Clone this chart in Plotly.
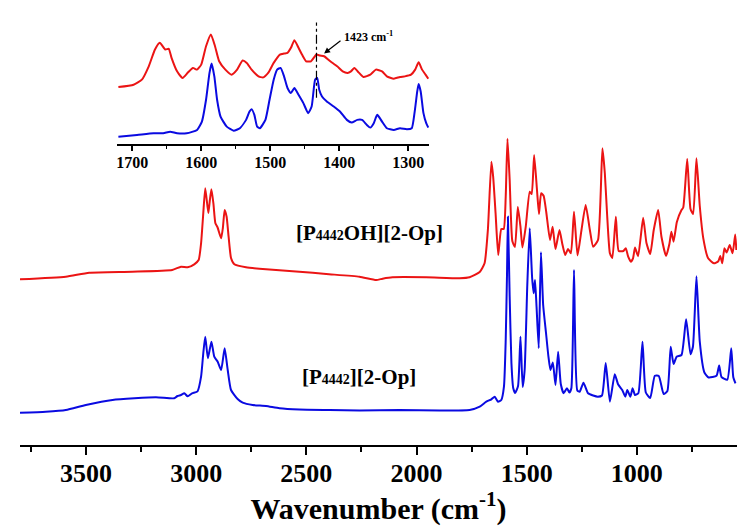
import plotly.graph_objects as go

# ---------------- main spectra (wavenumber cm-1, absorbance a.u.) ----------------
red_wn = [3800, 3592, 3486, 3290, 3109, 3069, 3039, 3009, 2989, 2978, 2968, 2959, 2945, 2938,
          2931, 2922, 2913, 2903, 2887, 2879, 2871, 2862, 2853, 2842, 2827, 2774, 2683, 2532,
          2410, 2259, 2183, 2154, 2109, 1956, 1804, 1759, 1713, 1691, 1676, 1660, 1652, 1641,
          1629, 1615, 1604, 1595, 1587, 1577, 1565, 1553, 1540, 1528, 1519, 1504, 1486, 1477,
          1466, 1453, 1444, 1434, 1423, 1411, 1394, 1382, 1369, 1351, 1338, 1325, 1312, 1299,
          1285, 1269, 1251, 1232, 1213, 1198, 1176, 1156, 1145, 1135, 1122, 1111, 1095, 1082,
          1061, 1050, 1039, 1027, 1017, 1008, 994, 971, 956, 939, 923, 903, 888, 867, 852, 843,
          833, 818, 797, 789, 771, 756, 744, 729, 714, 698, 676, 650, 630, 621, 612, 602, 592,
          578, 565, 553, 548]
red_abs = [1.657, 1.683, 1.723, 1.733, 1.75, 1.783, 1.777, 1.807, 1.85, 2.017, 2.317, 2.567, 2.32,
           2.45, 2.557, 2.417, 2.217, 2.175, 2.067, 2.17, 2.35, 2.283, 2.083, 1.87, 1.807, 1.777,
           1.757, 1.733, 1.71, 1.683, 1.65, 1.663, 1.677, 1.677, 1.667, 1.677, 1.73, 1.817, 2.15,
           2.833, 2.683, 2.317, 1.90, 2.16, 2.16, 2.483, 3.063, 2.65, 2.04, 1.98, 2.38, 2.183,
           1.975, 2.183, 2.533, 2.51, 2.90, 2.55, 2.31, 2.517, 2.492, 2.33, 2.05, 2.183, 1.96,
           2.15, 2.01, 1.90, 1.96, 1.917, 2.333, 1.895, 2.15, 2.40, 2.15, 1.983, 2.05, 2.967,
           2.717, 2.317, 1.917, 1.87, 2.283, 1.94, 1.94, 1.967, 1.883, 1.833, 1.867, 1.975, 1.887,
           2.272, 2.02, 1.91, 2.15, 2.35, 2.083, 1.89, 2.01, 2.133, 2.033, 2.23, 2.35, 2.375, 2.86,
           2.36, 2.31, 2.867, 2.39, 2.067, 1.867, 1.817, 1.837, 1.89, 1.817, 1.967, 1.925, 2.00,
           1.917, 2.105, 1.95]

blue_wn = [3800, 3683, 3592, 3501, 3380, 3183, 3100, 3085, 3069, 3054, 3039, 3019, 2994, 2978,
           2968, 2959, 2947, 2931, 2918, 2903, 2887, 2871, 2857, 2842, 2812, 2789, 2744, 2683,
           2622, 2532, 2395, 2259, 2077, 1895, 1759, 1713, 1683, 1660, 1645, 1630, 1615, 1603,
           1595, 1589, 1585, 1577, 1569, 1561, 1552, 1539, 1528, 1518, 1509, 1497, 1486, 1475,
           1468, 1462, 1455, 1445, 1435, 1425, 1412, 1401, 1392, 1381, 1369, 1357, 1345, 1332,
           1317, 1306, 1297, 1285, 1270, 1259, 1242, 1221, 1198, 1177, 1158, 1141, 1122, 1100,
           1085, 1066, 1052, 1043, 1029, 1019, 1008, 993, 974, 959, 939, 918, 900, 878, 861, 846,
           833, 819, 797, 776, 756, 745, 729, 714, 693, 674, 638, 626, 615, 589, 571, 562, 552]
blue_abs = [0.323, 0.333, 0.35, 0.40, 0.45, 0.477, 0.467, 0.49, 0.50, 0.517, 0.487, 0.517, 0.537,
            0.683, 0.917, 1.083, 0.867, 1.033, 0.883, 0.835, 0.75, 0.967, 0.75, 0.55, 0.46, 0.423,
            0.40, 0.39, 0.367, 0.355, 0.35, 0.345, 0.35, 0.345, 0.35, 0.383, 0.433, 0.457, 0.483,
            0.433, 0.45, 0.583, 1.05, 1.717, 2.283, 1.483, 0.817, 0.57, 0.52, 0.59, 1.083, 0.58,
            0.75, 1.60, 2.167, 1.67, 1.517, 1.65, 1.383, 0.967, 1.927, 1.40, 1.12, 0.883, 0.75,
            0.825, 0.60, 0.933, 0.61, 0.517, 0.567, 0.525, 0.567, 1.75, 0.545, 0.533, 0.623, 0.517,
            0.495, 0.483, 0.495, 0.82, 0.433, 0.708, 0.608, 0.55, 0.483, 0.55, 0.483, 0.567, 0.50,
            0.517, 1.033, 0.525, 0.47, 0.692, 0.69, 0.51, 0.54, 0.983, 0.81, 0.883, 0.90, 1.257,
            0.908, 0.983, 1.687, 1.033, 0.725, 0.675, 0.692, 0.795, 0.678, 0.653, 0.967, 0.68,
            0.617]

# ---------------- inset spectra (1720-1270 cm-1, magnified) ----------------
inset_red_wn = [1720, 1698, 1686, 1676, 1667, 1660, 1652, 1647, 1643, 1635, 1627, 1619, 1612,
                1606, 1600, 1593, 1586, 1580, 1574, 1565, 1556, 1548, 1540, 1534, 1527, 1517,
                1510, 1503, 1495, 1486, 1480, 1475, 1470, 1465, 1459, 1454, 1448, 1441, 1433,
                1428, 1422, 1413, 1403, 1395, 1388, 1383, 1378, 1372, 1365, 1355, 1347, 1338,
                1331, 1321, 1312, 1305, 1296, 1290, 1285, 1280, 1275, 1271]
inset_red_abs = [0.567, 0.59, 0.64, 0.773, 0.94, 1.007, 0.94, 0.947, 0.857, 0.723, 0.657, 0.713,
                 0.757, 0.74, 0.79, 0.973, 1.09, 0.973, 0.823, 0.74, 0.69, 0.74, 0.83, 0.807,
                 0.74, 0.673, 0.663, 0.707, 0.807, 0.89, 0.90, 0.907, 0.957, 1.033, 0.957, 0.89,
                 0.823, 0.823, 0.89, 0.88, 0.873, 0.823, 0.773, 0.723, 0.707, 0.723, 0.757, 0.713,
                 0.667, 0.69, 0.74, 0.723, 0.673, 0.65, 0.667, 0.673, 0.69, 0.74, 0.813, 0.74,
                 0.69, 0.65]
inset_blue_wn = [1720, 1693, 1669, 1655, 1645, 1635, 1621, 1606, 1599, 1593, 1588, 1585, 1581,
                 1577, 1572, 1563, 1553, 1544, 1535, 1530, 1527, 1523, 1519, 1515, 1507, 1501,
                 1495, 1490, 1485, 1480, 1475, 1470, 1465, 1459, 1452, 1445, 1440, 1435, 1432,
                 1429, 1425, 1418, 1408, 1399, 1389, 1382, 1374, 1367, 1360, 1355, 1350, 1345,
                 1338, 1331, 1321, 1312, 1302, 1295, 1291, 1287, 1285, 1282, 1278, 1274, 1271]
inset_blue_abs = [0.073, 0.09, 0.107, 0.107, 0.123, 0.107, 0.107, 0.14, 0.223, 0.44, 0.707, 0.80,
                  0.673, 0.44, 0.273, 0.173, 0.133, 0.157, 0.24, 0.323, 0.347, 0.29, 0.173,
                  0.157, 0.24, 0.44, 0.64, 0.74, 0.757, 0.673, 0.557, 0.507, 0.557, 0.49, 0.407,
                  0.307, 0.373, 0.64, 0.657, 0.54, 0.473, 0.423, 0.373, 0.323, 0.24, 0.213, 0.24,
                  0.24, 0.19, 0.163, 0.207, 0.29, 0.223, 0.157, 0.14, 0.157, 0.147, 0.157, 0.307,
                  0.523, 0.597, 0.523, 0.307, 0.207, 0.163]

marker_wn = 1433          # dash-dot guide line in the inset
marker_y = [0.46, 1.21]
arrow_tip = (1422, 0.90)
arrow_tail = (1396, 1.04)
marker_label = "1423 cm<sup>-1</sup>"

SUB = '<span style="font-size:14px">4442</span>'
label_red = "[P" + SUB + "OH][2-Op]"
label_blue = "[P" + SUB + "][2-Op]"
label_red_pos = (2213, 2.12)
label_blue_pos = (2259, 0.68)

RED = "rgb(235,20,20)"
BLUE = "rgb(10,10,225)"
SERIF = "Liberation Serif"
LINE = dict(width=2, shape="spline", smoothing=0.5)

fig = go.Figure()
fig.add_trace(go.Scatter(x=red_wn, y=red_abs, mode="lines", line=dict(color=RED, **LINE),
                         xaxis="x", yaxis="y", showlegend=False))
fig.add_trace(go.Scatter(x=blue_wn, y=blue_abs, mode="lines", line=dict(color=BLUE, **LINE),
                         xaxis="x", yaxis="y", showlegend=False))
fig.add_trace(go.Scatter(x=inset_red_wn, y=inset_red_abs, mode="lines",
                         line=dict(color=RED, **LINE), xaxis="x2", yaxis="y2",
                         showlegend=False))
fig.add_trace(go.Scatter(x=inset_blue_wn, y=inset_blue_abs, mode="lines",
                         line=dict(color=BLUE, **LINE), xaxis="x2", yaxis="y2",
                         showlegend=False))
fig.add_trace(go.Scatter(x=[marker_wn, marker_wn], y=marker_y, mode="lines",
                         line=dict(color="black", width=1.2, dash="dashdot"),
                         xaxis="x2", yaxis="y2", showlegend=False))

fig.update_layout(
    width=743, height=526,
    margin=dict(l=20, r=6, t=0, b=81),
    paper_bgcolor="white", plot_bgcolor="white",
    xaxis=dict(domain=[0, 1], range=[3800, 545], showline=True, linecolor="black",
               linewidth=2, ticks="outside", ticklen=8, tickwidth=2, tickcolor="black",
               dtick=500, tick0=0, showgrid=False, zeroline=False, ticklabelstandoff=-4,
               minor=dict(dtick=250, ticks="outside", ticklen=5, tickwidth=1.5,
                          tickcolor="black", showgrid=False),
               tickfont=dict(family=SERIF, size=26, color="black", weight="bold"),
               title=dict(text="Wavenumber (cm<sup>-1</sup>)", standoff=0,
                          font=dict(family=SERIF, size=30, color="black", weight="bold")),
               anchor="y"),
    yaxis=dict(domain=[0, 1], range=[0, 4.45], visible=False),
    xaxis2=dict(domain=[0.1353, 0.5704], range=[1722, 1270], showline=True,
                linecolor="black", linewidth=2, ticks="outside", ticklen=5, tickwidth=1.5,
                tickcolor="black", dtick=100, tick0=0, showgrid=False, zeroline=False,
                ticklabelstandoff=-2,
                minor=dict(dtick=50, ticks="outside", ticklen=3, tickwidth=1.2,
                           tickcolor="black", showgrid=False),
                tickfont=dict(family=SERIF, size=16, color="black", weight="bold"),
                anchor="y2"),
    yaxis2=dict(domain=[0.6764, 0.97], range=[0, 1.30], visible=False, anchor="x2"),
)

fig.add_annotation(x=arrow_tip[0], y=arrow_tip[1], ax=arrow_tail[0], ay=arrow_tail[1],
                   xref="x2", yref="y2", axref="x2", ayref="y2", text="", showarrow=True,
                   arrowhead=2, arrowsize=1, arrowwidth=1.2, arrowcolor="black")
fig.add_annotation(x=arrow_tail[0], y=arrow_tail[1] + 0.03, xref="x2", yref="y2",
                   text=marker_label, showarrow=False, xanchor="left", yanchor="middle",
                   font=dict(family=SERIF, size=12, color="black", weight="bold"))
fig.add_annotation(x=label_red_pos[0], y=label_red_pos[1], xref="x", yref="y",
                   text=label_red, showarrow=False,
                   font=dict(family=SERIF, size=21, color="black", weight="bold"))
fig.add_annotation(x=label_blue_pos[0], y=label_blue_pos[1], xref="x", yref="y",
                   text=label_blue, showarrow=False,
                   font=dict(family=SERIF, size=21, color="black", weight="bold"))

fig.write_html("out.html")
